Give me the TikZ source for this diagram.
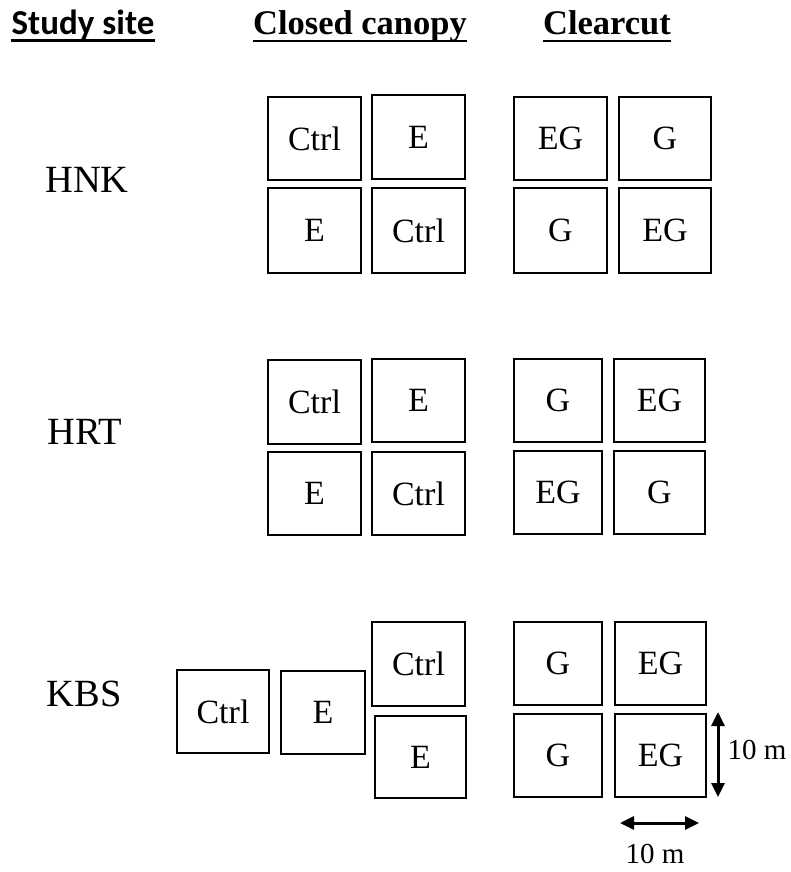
\documentclass[tikz,border=0pt]{standalone}
\usepackage{fontspec}
\setmainfont{Liberation Serif}
\newfontfamily\headsans{Carlito}
\usetikzlibrary{arrows.meta}

\tikzset{
  plotbox/.style={draw, line width=2pt, inner sep=0pt, outer sep=0pt,
    minimum width=93pt, minimum height=83pt,
    font=\fontsize{34}{34}\selectfont},
  sitelabel/.style={inner sep=0pt, font=\fontsize{38.5}{38.5}\selectfont},
  heading/.style={inner sep=0pt, anchor=base},
  underline/.style={line width=2.8pt},
  dimarrow/.style={line width=3pt,
    {Triangle[length=14pt,width=13pt]}-{Triangle[length=14pt,width=13pt]}},
  dimlabel/.style={inner sep=0pt, font=\fontsize{29}{29}\selectfont}
}

\begin{document}
\begin{tikzpicture}[x=1pt, y=-1pt]
\useasboundingbox (0,0) rectangle (790,872);

% column headings
\node[heading, font=\headsans\bfseries\fontsize{35}{35}\selectfont]
  (hsite) at (83,34.5) {Study site};
\node[heading, font=\bfseries\fontsize{34.5}{34.5}\selectfont]
  (hclosed) at (360,35) {Closed canopy};
\node[heading, font=\bfseries\fontsize{34.5}{34.5}\selectfont]
  (hclear) at (607,35) {Clearcut};
\draw[underline] ([yshift=-6pt]hsite.base west) -- ([yshift=-6pt]hsite.base east);
\draw[underline] ([yshift=-6pt]hclosed.base west) -- ([yshift=-6pt]hclosed.base east);
\draw[underline] ([yshift=-6pt]hclear.base west) -- ([yshift=-6pt]hclear.base east);

% site names
\node[sitelabel] (hnk) at (87,180) {HNK};
\node[sitelabel] (hrt) at (85,432) {HRT};
\node[sitelabel] (kbs) at (84,694) {KBS};

% HNK plots
\node[plotbox] (hnkA) at (314.5,138.5) {Ctrl};
\node[plotbox, minimum height=84pt] (hnkB) at (418.5,137) {E};
\node[plotbox, minimum height=85pt] (hnkC) at (314.5,230.5) {E};
\node[plotbox, minimum height=85pt] (hnkD) at (418.5,230.5) {Ctrl};
\node[plotbox] (hnkE) at (560.5,138.5) {EG};
\node[plotbox, minimum width=92pt] (hnkF) at (665,138.5) {G};
\node[plotbox, minimum height=85pt] (hnkG) at (560.5,230.5) {G};
\node[plotbox, minimum width=92pt, minimum height=85pt] (hnkH) at (665,230.5) {EG};

% HRT plots
\node[plotbox, minimum height=84pt] (hrtA) at (314.5,402) {Ctrl};
\node[plotbox] (hrtB) at (418.5,400.5) {E};
\node[plotbox] (hrtC) at (314.5,493.5) {E};
\node[plotbox] (hrtD) at (418.5,493.5) {Ctrl};
\node[plotbox, minimum width=88pt] (hrtE) at (558,400.5) {G};
\node[plotbox, minimum width=91pt] (hrtF) at (659.5,400.5) {EG};
\node[plotbox, minimum width=88pt] (hrtG) at (558,492.5) {EG};
\node[plotbox, minimum width=91pt] (hrtH) at (659.5,492.5) {G};

% KBS plots
\node[plotbox, minimum width=92pt] (kbsA) at (223,711.5) {Ctrl};
\node[plotbox, minimum width=84pt] (kbsB) at (323,712.5) {E};
\node[plotbox, minimum height=84pt] (kbsC) at (418.5,664) {Ctrl};
\node[plotbox, minimum width=91pt, minimum height=82pt] (kbsD) at (420.5,757) {E};
\node[plotbox, minimum width=88pt] (kbsE) at (558,663.5) {G};
\node[plotbox, minimum width=91pt] (kbsF) at (660.5,663.5) {EG};
\node[plotbox, minimum width=88pt] (kbsG) at (558,755.5) {G};
\node[plotbox, minimum width=91pt] (kbsH) at (660.5,755.5) {EG};

% scale bars
\coordinate (vtop) at (718,712);
\coordinate (vbot) at (718,797);
\coordinate (hleft) at (620,823);
\coordinate (hright) at (699,823);
\draw[dimarrow] (vtop) -- (vbot);
\draw[dimarrow] (hleft) -- (hright);
\node[dimlabel] (vlab) at (757,750) {10 m};
\node[dimlabel] (hlab) at (655,854) {10 m};
\end{tikzpicture}
\end{document}
